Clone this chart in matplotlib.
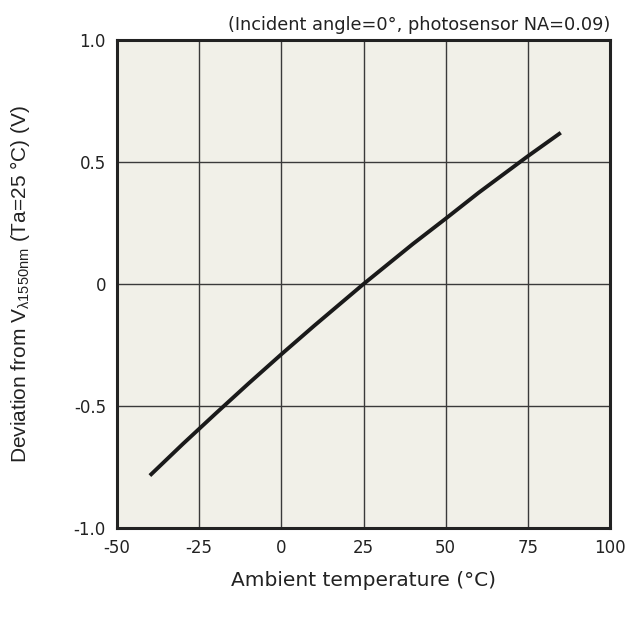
import matplotlib.pyplot as plt

# ambient temperature (degC) and deviation from V(Ta=25 degC) (V)
temp = [-40, -30, -20, -10, 0, 10, 25, 40, 50, 60, 75, 85]
dev = [-0.785, -0.656, -0.531, -0.408, -0.288, -0.171, 0.0, 0.164, 0.268, 0.374, 0.524, 0.62]

xticks = [-50, -25, 0, 25, 50, 75, 100]
xlabels = ['-50', '-25', '0', '25', '50', '75', '100']
yticks = [-1.0, -0.5, 0, 0.5, 1.0]
ylabels = ['-1.0', '-0.5', '0', '0.5', '1.0']

plt.rcParams['font.family'] = ['DejaVu Sans']
plt.rcParams['mathtext.fontset'] = 'custom'
plt.rcParams['mathtext.rm'] = 'Liberation Sans'

fig = plt.figure(figsize=(6.27, 6.22), dpi=100)
ax = fig.add_axes([0.1866, 0.1511, 0.7864, 0.7846])
ax.set_facecolor('#f1f0e8')

ax.plot(temp, dev, color='#1a1a1a', lw=2.8, solid_capstyle='butt', zorder=3)

ax.set_xlim(-50, 100)
ax.set_ylim(-1.0, 1.0)
ax.set_xticks(xticks)
ax.set_xticklabels(xlabels)
ax.set_yticks(yticks)
ax.set_yticklabels(ylabels)
ax.tick_params(length=0, labelsize=12, colors='#222222', pad=8)
ax.grid(True, color='#3a3a3a', lw=1.0)
ax.set_axisbelow(True)
for s in ax.spines.values():
    s.set_linewidth(2.2)
    s.set_color('#222222')

ax.set_xlabel('Ambient temperature (°C)', fontsize=14.5, color='#222222', labelpad=6)
ax.set_ylabel(r'Deviation from V$_{\mathregular{λ1550nm}}$ (Ta=25 °C) (V)',
              fontsize=15, family='Liberation Sans', color='#222222')
ax.xaxis.set_label_coords(0.5, -0.088)
ax.yaxis.set_label_coords(-0.197, 0.5)
ax.yaxis.label.set_va('center')
ax.text(1.0, 1.012, '(Incident angle=0°, photosensor NA=0.09)', transform=ax.transAxes,
        ha='right', va='bottom', fontsize=12.8, color='#222222')

fig.savefig('out.png', dpi=100)
